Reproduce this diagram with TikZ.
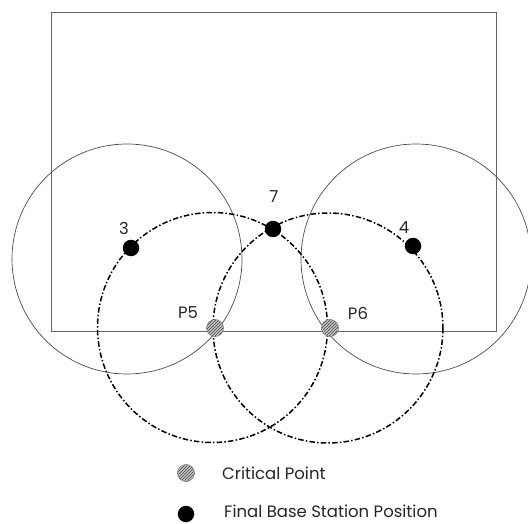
\documentclass[tikz,border=0pt]{standalone}
\usepackage{fontspec}
\setmainfont{Poppins}
\usetikzlibrary{patterns}
\begin{document}
\begin{tikzpicture}[x=1pt,y=-1pt,
  rangecirc/.style={draw=black!70,line width=0.7pt},
  finalcirc/.style={draw=black,line width=1.5pt,dash pattern=on 5.5pt off 2.2pt on 1.5pt off 2.2pt},
  station/.style={circle,fill=black,inner sep=0pt,minimum size=16.5pt},
  critical/.style={circle,draw=black!55,line width=0.6pt,fill=black!22,inner sep=0pt,minimum size=17pt},
  hatch/.style={pattern=north east lines,pattern color=black!75},
  lbl/.style={font=\fontsize{16.5}{18}\selectfont,text=black!85,inner sep=0pt},
  legend/.style={font=\fontsize{16.5}{19}\selectfont,text=black!85,inner sep=0pt,anchor=west}]
\useasboundingbox (0,0) rectangle (528,524);
\fill[white] (0,0) rectangle (528,524);
% area
\draw[draw=black!60,line width=0.9pt] (51,12) rectangle (496,331);
% range circles
\draw[rangecirc] (127,259) circle (115);
\draw[rangecirc] (416,259) circle (115);
% final circles
\draw[finalcirc] (212.5,327.5) circle (115);
\draw[finalcirc] (328,328) circle (115);
% stations
\node[station] (s3) at (131,248) {};
\node[station] (s7) at (273,229) {};
\node[station] (s4) at (413,246) {};
\node[critical] (p5) at (215,328) {};
\path[hatch] (p5.center) circle (8);
\node[critical] (p6) at (330,328) {};
\path[hatch] (p6.center) circle (8);
% labels
\node[lbl] (l3) at (124,228) {3};
\node[lbl] (l7) at (274,197) {7};
\node[lbl] (l4) at (404,228) {4};
\node[lbl] (l5) at (188,313) {P5};
\node[lbl] (l6) at (358,313) {P6};
% legend
\node[critical] (lc) at (186,473) {};
\path[hatch] (lc.center) circle (8);
\node[legend] (tc) at (222,473) {Critical Point};
\node[station] (ls) at (186,514) {};
\node[legend] (ts) at (224,511) {Final Base Station Position};
\end{tikzpicture}
\end{document}
